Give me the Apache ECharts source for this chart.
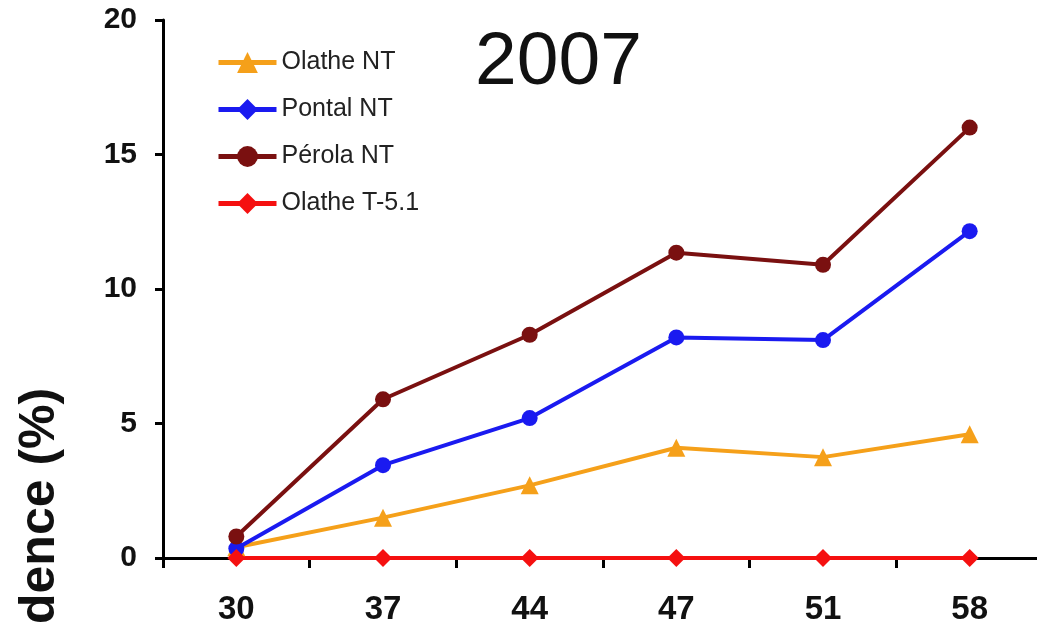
<!DOCTYPE html>
<html>
<head>
<meta charset="utf-8">
<script src="https://cdn.jsdelivr.net/npm/echarts@6/dist/echarts.min.js"></script>
<style>
  html, body { margin: 0; padding: 0; background: #fff; }
  #chart { width: 1037px; height: 623px; }
</style>
</head>
<body>
<div id="chart"></div>
<script>
var categories = ['30', '37', '44', '47', '51', '58'];
var olatheNT = [0.4, 1.5, 2.7, 4.1, 3.75, 4.6];
var pontalNT = [0.35, 3.45, 5.2, 8.2, 8.1, 12.15];
var perolaNT = [0.8, 5.9, 8.3, 11.35, 10.9, 16.0];
var olatheT51 = [0, 0, 0, 0, 0, 0];

function incidenceChart(){
	var chart = echarts.init(document.getElementById('chart'));

	// series symbol drives the legend icon, pointSymbol (if given) the marks on the plot
	function lineSeries(name, data, color, symbol, size, pointSymbol){
		return {
			name: name,
			type: 'line',
			data: pointSymbol ? data.map(function(v){ return { value: v, symbol: pointSymbol }; }) : data,
			symbol: symbol,
			symbolSize: size,
			lineStyle: { color: color, width: 4 },
			itemStyle: { color: color },
			animation: false
		};
	}

	var option = {
		backgroundColor: '#fff',
		textStyle: { fontFamily: 'Liberation Sans, Arial, sans-serif' },
		title: {
			text: '2007',
			left: 470,
			top: 21,
			textStyle: { fontSize: 75, fontWeight: 'normal', color: '#111' }
		},
		legend: {
			orient: 'vertical',
			left: 211,
			top: 45,
			itemWidth: 58,
			itemHeight: 26,
			itemGap: 22,
			lineStyle: { width: 5 },
			textStyle: { fontSize: 25, color: '#222' },
			data: ['Olathe NT', 'Pontal NT', 'Pérola NT', 'Olathe T-5.1']
		},
		grid: {
			left: 163,
			top: 20,
			width: 880,
			height: 538,
			outerBoundsMode: 'none',
			containLabel: false
		},
		xAxis: {
			type: 'category',
			data: categories,
			boundaryGap: true,
			axisLine: { lineStyle: { color: '#000', width: 3 } },
			axisTick: { show: true, length: 10, lineStyle: { width: 3 } },
			axisLabel: { fontSize: 33, fontWeight: 'bold', color: '#111', margin: 35 }
		},
		yAxis: {
			type: 'value',
			min: 0,
			max: 20,
			interval: 5,
			splitLine: { show: false },
			axisLine: { show: true, lineStyle: { color: '#000', width: 3 } },
			axisTick: { show: true, length: 8, lineStyle: { width: 3 } },
			axisLabel: { fontSize: 30, fontWeight: 'bold', color: '#111', margin: 26 }
		},
		graphic: [{
			type: 'text',
			x: 40,
			y: 549,
			rotation: Math.PI / 2,
			style: {
				text: 'Incidence (%)',
				font: 'bold 50px Liberation Sans, Arial, sans-serif',
				fill: '#111',
				textAlign: 'center',
				textVerticalAlign: 'middle'
			}
		}],
		series: [
			lineSeries('Olathe NT', olatheNT, '#f5a01a', 'triangle', 18),
			lineSeries('Pontal NT', pontalNT, '#1a1af0', 'diamond', 16, 'circle'),
			lineSeries('Pérola NT', perolaNT, '#7a1010', 'circle', 16),
			lineSeries('Olathe T-5.1', olatheT51, '#f51010', 'diamond', 18)
		]
	};

	chart.setOption(option);
}

incidenceChart();
</script>
</body>
</html>
